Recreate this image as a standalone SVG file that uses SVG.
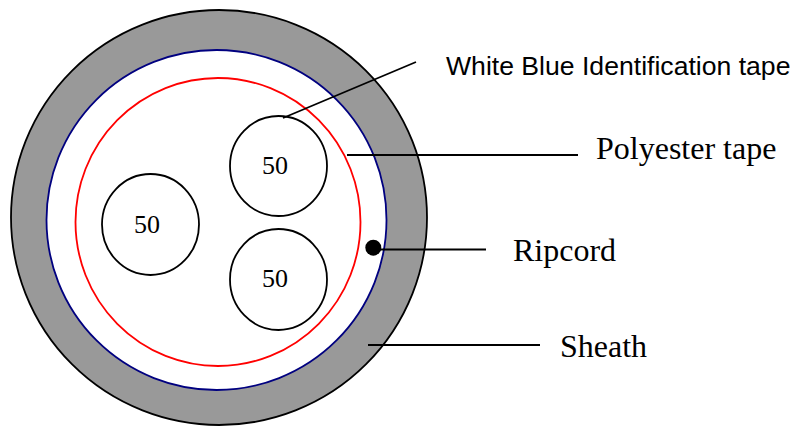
<svg xmlns="http://www.w3.org/2000/svg" width="794" height="426" viewBox="0 0 794 426">
<style>
.c{fill:#fff;stroke:#000;stroke-width:1.800}
.l{stroke:#000;stroke-width:1.800;fill:none}
.t{font-family:"Liberation Serif",serif;font-size:32px;fill:#000}
.n{font-family:"Liberation Serif",serif;font-size:26px;fill:#000;text-anchor:middle}
</style>
<rect width="794" height="426" fill="#fff"/>
<g id="sheath"><ellipse cx="219" cy="217.500" rx="208" ry="207.500" fill="#999" stroke="#000" stroke-width="1.800"/></g>
<g id="blue-ring"><ellipse cx="216.500" cy="220" rx="170" ry="170" fill="#fff" stroke="#000080" stroke-width="1.800"/></g>
<g id="polyester"><ellipse cx="218" cy="222" rx="142.500" ry="144" fill="none" stroke="#f00" stroke-width="1.800"/></g>
<g id="cable-1"><ellipse class="c" cx="278.500" cy="166" rx="48.500" ry="50"/><text class="n" x="275" y="174">50</text></g>
<g id="cable-2"><ellipse class="c" cx="150.500" cy="224.500" rx="48.500" ry="50.500"/><text class="n" x="147" y="232.500">50</text></g>
<g id="cable-3"><ellipse class="c" cx="278.500" cy="279.500" rx="48.500" ry="50.500"/><text class="n" x="275" y="286.500">50</text></g>
<g id="ripcord"><circle cx="373.300" cy="247.700" r="8" fill="#000"/></g>
<g id="connectors">
<path class="l" d="M283 118L416 62"/>
<path class="l" d="M347 155H578"/>
<path class="l" d="M378 249.500H486"/>
<path class="l" d="M368 345H540"/>
</g>
<g id="labels">
<text x="446" y="74.500" font-family="Liberation Sans,sans-serif" font-size="26.600">White Blue Identification tape</text>
<text class="t" x="596" y="158.500">Polyester tape</text>
<text class="t" x="513" y="260.500">Ripcord</text>
<text class="t" x="560" y="356.500">Sheath</text>
</g>
</svg>
